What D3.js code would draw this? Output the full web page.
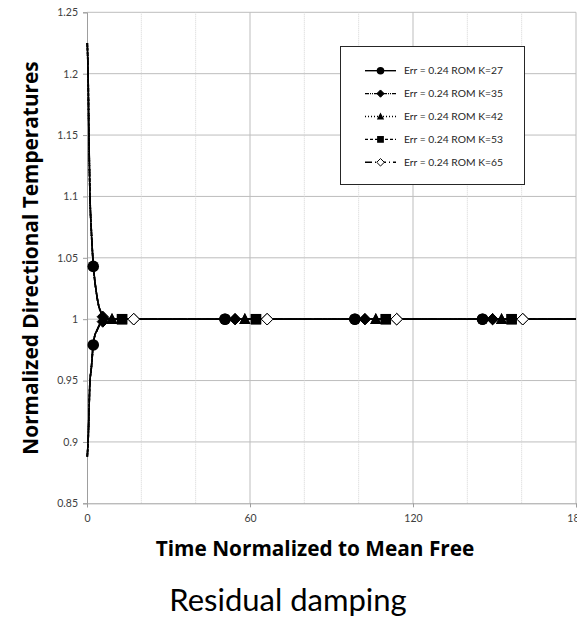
<!DOCTYPE html>
<html><head><meta charset="utf-8">
<script src="https://cdn.jsdelivr.net/npm/d3@7"></script>
<style>
html,body{margin:0;padding:0;background:#fff;overflow:hidden}
svg{display:block;font-family:Lato,"Open Sans",sans-serif}
</style></head>
<body>
<svg id="chart" width="577" height="621"></svg>
<script>
// ---- data ----
const xTicks = [0, 60, 120, 180];
const xMinor = [20, 40, 80, 100, 140, 160];
const yTicks = [0.85, 0.9, 0.95, 1, 1.05, 1.1, 1.15, 1.2, 1.25];
const yTickLabels = ["0.85", "0.9", "0.95", "1", "1.05", "1.1", "1.15", "1.2", "1.25"];

// upper branch (parallel temperature), shared by all series
const upperT = [0.1, 0.4, 0.7, 1.1, 1.6, 2.2, 2.6, 3.3, 4.3, 5.3, 6.2, 8, 10, 180];
const upperV = [1.225, 1.2, 1.15, 1.1, 1.072, 1.048, 1.037, 1.024, 1.011, 1.005, 1.002, 1.0005, 1.0, 1.0];
// lower branch (perpendicular temperature)
const lowerT = [0.1, 0.4, 1.1, 1.5, 1.85, 2.2, 2.8, 3.7, 4.9, 6.2, 8, 180];
const lowerV = [0.888, 0.9, 0.95, 0.958, 0.967, 0.978, 0.986, 0.991, 0.9965, 0.999, 1.0, 1.0];

const seriesNames = ["Err = 0.24 ROM K=27", "Err = 0.24 ROM K=35", "Err = 0.24 ROM K=42", "Err = 0.24 ROM K=53", "Err = 0.24 ROM K=65"];
// marker times per series, with upper / lower values at those times
const markT_K27 = [2.3, 50.8, 98.6, 145.6];
const markU_K27 = [1.043, 1, 1, 1];
const markL_K27 = [0.979, 1, 1, 1];
const markT_K35 = [5.8, 54.5, 102.3, 149.3];
const markU_K35 = [1.002, 1, 1, 1];
const markL_K35 = [0.998, 1, 1, 1];
const markT_K42 = [9.2, 58.1, 106.3, 152.6];
const markU_K42 = [1.0, 1, 1, 1];
const markL_K42 = [1.0, 1, 1, 1];
const markT_K53 = [12.9, 62.2, 110.0, 156.3];
const markU_K53 = [1.0, 1, 1, 1];
const markL_K53 = [1.0, 1, 1, 1];
const markT_K65 = [17.2, 66.3, 114.0, 160.4];
const markU_K65 = [1.0, 1, 1, 1];
const markL_K65 = [1.0, 1, 1, 1];

// ---- build ----
const markerTimes = [markT_K27, markT_K35, markT_K42, markT_K53, markT_K65];
const markerUpper = [markU_K27, markU_K35, markU_K42, markU_K53, markU_K65];
const markerLower = [markL_K27, markL_K35, markL_K42, markL_K53, markL_K65];
const markerShapes = ["circle", "diamond", "triangle", "square", "odiamond"];
const dashes = [null, "4,1,1,1,1,1", "1,2", "3,2", "7,3,1,3"];

const series = seriesNames.map((name, i) => ({
  name,
  shape: markerShapes[i],
  dash: dashes[i],
  upper: upperT.map((t, j) => ({t, v: upperV[j]})),
  lower: lowerT.map((t, j) => ({t, v: lowerV[j]})),
  marks: markerTimes[i].flatMap((t, j) => [{t, v: markerUpper[i][j]}, {t, v: markerLower[i][j]}])
}));

const svg = d3.select("#chart");
const pLeft = 87, pTop = 12.3, pBottom = 503.3;
const x = d3.scaleLinear().domain([0, 180]).range([pLeft, pLeft + (250 - 87) * 3]);
const y = d3.scaleLinear().domain([0.85, 1.25]).range([pBottom, pTop]);

const grid = svg.append("g");
grid.selectAll("line.h").data(yTicks.filter(d => d > 0.85)).join("line")
  .attr("x1", pLeft).attr("x2", x(180)).attr("y1", d => y(d)).attr("y2", d => y(d))
  .attr("stroke", "#bdbdbd").attr("stroke-width", 1);
grid.selectAll("line.vm").data(xMinor).join("line")
  .attr("x1", d => x(d)).attr("x2", d => x(d)).attr("y1", pTop).attr("y2", pBottom)
  .attr("stroke", "#d4d4d4").attr("stroke-width", 1).attr("stroke-dasharray", "1,1");
grid.selectAll("line.vM").data(xTicks.filter(d => d > 0)).join("line")
  .attr("x1", d => x(d)).attr("x2", d => x(d)).attr("y1", pTop).attr("y2", pBottom)
  .attr("stroke", "#bdbdbd").attr("stroke-width", 1);

const yAxis = d3.axisLeft(y).tickValues(yTicks).tickFormat((d, i) => yTickLabels[i]).tickSize(4).tickPadding(5);
const gy = svg.append("g").attr("transform", `translate(${pLeft},0)`).call(yAxis);
const xAxis = d3.axisBottom(x).tickValues(xTicks).tickSize(4).tickPadding(7);
const gx = svg.append("g").attr("transform", `translate(0,${pBottom})`).call(xAxis);
[gy, gx].forEach(g => {
  g.select(".domain").attr("stroke", "#9e9e9e");
  g.selectAll(".tick line").attr("stroke", "#9e9e9e");
  g.selectAll(".tick text").attr("fill", "#404040").attr("font-size", 10.5).attr("font-family", "Lato, sans-serif");
});

const line = d3.line().x(d => x(d.t)).y(d => y(d.v)).curve(d3.curveMonotoneX);
const plot = svg.append("g");
series.slice().reverse().forEach(s => {
  [s.upper, s.lower].forEach(data => {
    plot.append("path").attr("d", line(data)).attr("fill", "none")
      .attr("stroke", "#000").attr("stroke-width", 1.6)
      .attr("stroke-dasharray", s.dash);
  });
});

function drawMarker(g, shape, cx, cy, k) {
  if (shape === "circle") {
    g.append("circle").attr("cx", cx).attr("cy", cy).attr("r", 5.8 * k).attr("fill", "#000");
  } else if (shape === "diamond" || shape === "odiamond") {
    const r = (shape === "diamond" ? 5.6 : 5.8) * k;
    g.append("path").attr("d", `M${cx},${cy - r}L${cx + r},${cy}L${cx},${cy + r}L${cx - r},${cy}Z`)
      .attr("fill", shape === "diamond" ? "#000" : "#fff").attr("stroke", "#000").attr("stroke-width", 1);
  } else if (shape === "triangle") {
    g.append("path").attr("d", `M${cx},${cy - 6.2 * k}L${cx + 5.6 * k},${cy + 4.8 * k}L${cx - 5.6 * k},${cy + 4.8 * k}Z`).attr("fill", "#000");
  } else if (shape === "square") {
    g.append("rect").attr("x", cx - 5.2 * k).attr("y", cy - 5.2 * k).attr("width", 10.4 * k).attr("height", 10.4 * k).attr("fill", "#000");
  }
}
const mg = svg.append("g");
series.forEach(s => s.marks.forEach(m => drawMarker(mg, s.shape, x(m.t), y(m.v), 1)));

const lg = svg.append("g");
lg.append("rect").attr("x", 340.5).attr("y", 46.5).attr("width", 184).attr("height", 138)
  .attr("fill", "#fff").attr("stroke", "#262626").attr("stroke-width", 1);
series.forEach((s, i) => {
  const yy = 70.7 + i * 22.9;
  lg.append("line").attr("x1", 365).attr("x2", 396).attr("y1", yy).attr("y2", yy)
    .attr("stroke", "#000").attr("stroke-width", 1.4).attr("stroke-dasharray", s.dash);
  drawMarker(lg, s.shape, 380.5, yy, 0.65);
  lg.append("text").attr("x", 404).attr("y", yy).attr("dy", "0.35em")
    .attr("font-size", 10.3).attr("fill", "#262626").text(s.name);
});

svg.append("text").attr("x", 315).attr("y", 556).attr("text-anchor", "middle")
  .attr("font-family", "'Open Sans', sans-serif")
  .attr("font-weight", "bold").attr("font-size", 20.8).attr("fill", "#000")
  .text("Time Normalized to Mean Free");
svg.append("text").attr("transform", "translate(38,258) rotate(-90)").attr("text-anchor", "middle")
  .attr("font-family", "'Open Sans', sans-serif")
  .attr("font-weight", "bold").attr("font-size", 20.8).attr("fill", "#000")
  .text("Normalized Directional Temperatures");
svg.append("text").attr("x", 288).attr("y", 611).attr("text-anchor", "middle")
  .attr("font-size", 31).attr("fill", "#000")
  .text("Residual damping");
</script>
</body></html>
